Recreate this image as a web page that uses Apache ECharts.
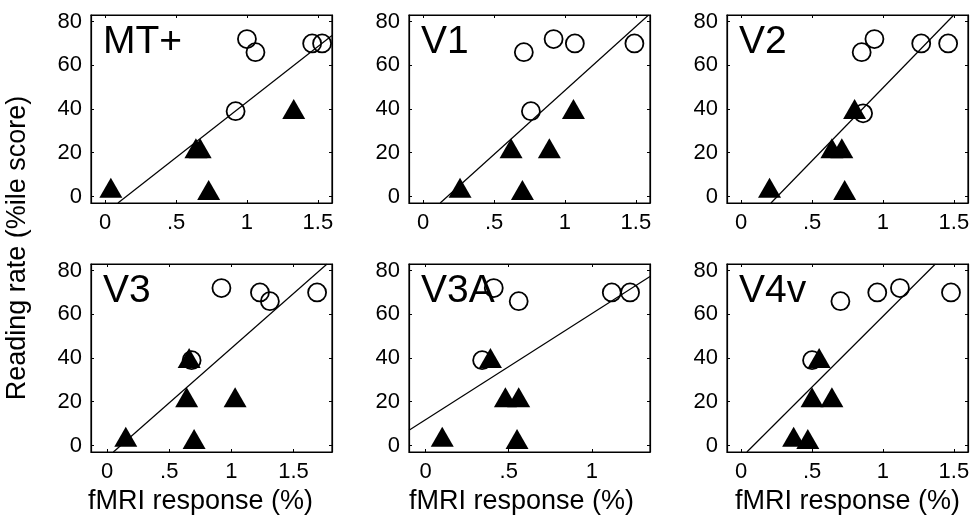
<!DOCTYPE html>
<html>
<head>
<meta charset="utf-8">
<script src="https://cdn.jsdelivr.net/npm/echarts@6/dist/echarts.min.js"></script>
<style>
html,body{margin:0;padding:0;background:#fff;}
#main{width:973px;height:524px;}
</style>
</head>
<body>
<div id="main"></div>
<script>
// 各脑区数据: [fMRI response, reading rate]
const panelNames = ['MT+', 'V1', 'V2', 'V3', 'V3A', 'V4v'];

const mtCircles = [[1.00, 72], [1.06, 66], [0.92, 39], [1.46, 70], [1.53, 70]];
const mtTriangles = [[0.04, 4], [0.64, 22], [0.67, 22], [0.73, 3], [1.33, 40]];
const mtFit = [[0.09, -3], [1.6, 73.6]];

const v1Circles = [[0.71, 66], [0.92, 72], [1.07, 70], [1.49, 70], [0.76, 39]];
const v1Triangles = [[0.26, 4], [0.62, 22], [0.70, 3], [0.89, 22], [1.06, 40]];
const v1Fit = [[0.12, -3], [1.59, 83]];

const v2Circles = [[0.85, 66], [0.94, 72], [1.27, 70], [1.46, 70], [0.86, 38]];
const v2Triangles = [[0.20, 4], [0.64, 22], [0.71, 22], [0.73, 3], [0.80, 40]];
const v2Fit = [[0.21, -3], [1.5, 83]];

const v3Circles = [[0.92, 72], [1.23, 70], [1.31, 66], [1.69, 70], [0.68, 39]];
const v3Triangles = [[0.15, 4], [0.64, 22], [0.70, 3], [1.03, 22], [0.66, 40]];
const v3Fit = [[0.05, -3], [1.77, 83]];

const v3aCircles = [[0.41, 72], [0.56, 66], [1.12, 70], [1.23, 70], [0.34, 39]];
const v3aTriangles = [[0.10, 4], [0.48, 22], [0.56, 22], [0.55, 3], [0.39, 40]];
const v3aFit = [[-0.1, 7], [1.35, 77.3]];

const v4Circles = [[0.70, 66], [0.96, 70], [1.12, 72], [1.48, 70], [0.50, 39]];
const v4Triangles = [[0.37, 4], [0.47, 3], [0.50, 22], [0.64, 22], [0.55, 40]];
const v4Fit = [[0.04, -3], [1.37, 83]];

const xMins = [-0.1, -0.1, -0.1, -0.13, -0.1, -0.1];
const xMaxs = [1.6, 1.6, 1.6, 1.81, 1.35, 1.6];
const xTicks = [[0, 0.5, 1, 1.5], [0, 0.5, 1, 1.5], [0, 0.5, 1, 1.5],
                [0, 0.5, 1, 1.5], [0, 0.5, 1], [0, 0.5, 1, 1.5]];
const yTicks = [0, 20, 40, 60, 80];

const circles = [mtCircles, v1Circles, v2Circles, v3Circles, v3aCircles, v4Circles];
const triangles = [mtTriangles, v1Triangles, v2Triangles, v3Triangles, v3aTriangles, v4Triangles];
const fits = [mtFit, v1Fit, v2Fit, v3Fit, v3aFit, v4Fit];

const FONT = 'Liberation Sans';
const lefts = [91, 409, 727];
const tops = [15, 264];
const W = 241, H = 188;
// 横轴标题的左右微调(右侧留白使文字左移)
const namePadRight = [0, 0, 0, 22, 16, 0];

let chart = echarts.init(document.getElementById('main'));

let grids = [], xAxes = [], yAxes = [], series = [], titles = [];

panelNames.forEach((name, i) => {
    let left = lefts[i % 3], top = tops[Math.floor(i / 3)];
    grids.push({left: left, top: top, width: W, height: H,
        show: true, borderColor: '#000', borderWidth: 1.2, backgroundColor: 'transparent'});

    let tick = {show: true, inside: true, length: 3, customValues: xTicks[i],
        lineStyle: {color: '#000', width: 1}};
    let bottomRow = i >= 3;
    xAxes.push({
        gridIndex: i, type: 'value', position: 'bottom',
        min: xMins[i], max: xMaxs[i],
        splitLine: {show: false},
        axisLine: {show: true, onZero: false, lineStyle: {color: '#000', width: 1.2}},
        axisTick: tick,
        axisLabel: {
            customValues: xTicks[i], margin: 9, color: '#000',
            fontFamily: FONT, fontSize: 22,
            formatter: v => String(v).replace(/^0\./, '.')
        },
        name: bottomRow ? 'fMRI response (%)' : '',
        nameLocation: 'middle', nameGap: 36,
        nameTextStyle: {color: '#000', fontFamily: FONT, fontSize: 27,
            padding: [0, namePadRight[i], 0, 0]}
    });
    xAxes.push({
        gridIndex: i, type: 'value', position: 'top',
        min: xMins[i], max: xMaxs[i],
        splitLine: {show: false},
        axisLine: {show: true, onZero: false, lineStyle: {color: '#000', width: 1.2}},
        axisTick: tick,
        axisLabel: {show: false}
    });
    let ytick = {show: true, inside: true, length: 3, customValues: yTicks,
        lineStyle: {color: '#000', width: 1}};
    yAxes.push({
        gridIndex: i, type: 'value', position: 'left',
        min: -3, max: 83,
        splitLine: {show: false},
        axisLine: {show: true, onZero: false, lineStyle: {color: '#000', width: 1.2}},
        axisTick: ytick,
        axisLabel: {customValues: yTicks, margin: 9, color: '#000', fontFamily: FONT, fontSize: 22}
    });
    yAxes.push({
        gridIndex: i, type: 'value', position: 'right',
        min: -3, max: 83,
        splitLine: {show: false},
        axisLine: {show: true, onZero: false, lineStyle: {color: '#000', width: 1.2}},
        axisTick: ytick,
        axisLabel: {show: false}
    });

    titles.push({
        text: name, left: left + 7, top: top + 3,
        textStyle: {fontFamily: FONT, fontSize: 39, fontWeight: 'normal', color: '#000'}
    });

    series.push({
        type: 'line', xAxisIndex: 2 * i, yAxisIndex: 2 * i,
        data: fits[i], symbol: 'none', clip: true, silent: true,
        lineStyle: {color: '#000', width: 1.2}, z: 1
    });
    series.push({
        type: 'scatter', xAxisIndex: 2 * i, yAxisIndex: 2 * i,
        data: circles[i], symbol: 'circle', symbolSize: 18,
        itemStyle: {color: 'rgba(0,0,0,0)', borderColor: '#000', borderWidth: 1.8, opacity: 1}, z: 2
    });
    series.push({
        type: 'scatter', xAxisIndex: 2 * i, yAxisIndex: 2 * i,
        data: triangles[i], symbol: 'triangle', symbolSize: [23, 20],
        itemStyle: {color: '#000', opacity: 1}, z: 3
    });
});

chart.setOption({
    animation: false,
    backgroundColor: '#fff',
    title: titles,
    grid: grids,
    xAxis: xAxes,
    yAxis: yAxes,
    series: series,
    graphic: [{
        type: 'text', x: 18, y: 248, rotation: Math.PI / 2,
        style: {text: 'Reading rate (%ile score)', fontFamily: FONT, fontSize: 27,
            fill: '#000', align: 'center', verticalAlign: 'middle'}
    }]
});
</script>
</body>
</html>
